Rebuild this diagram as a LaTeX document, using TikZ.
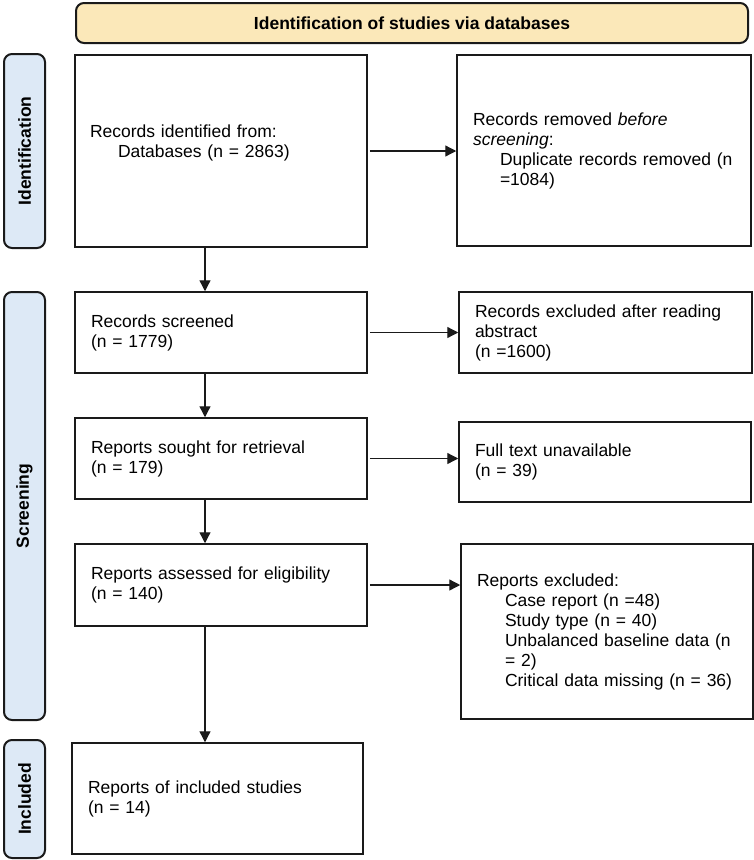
\documentclass[tikz,border=0pt]{standalone}
\usepackage{fontspec}
\setmainfont{Liberation Sans}
\usetikzlibrary{arrows.meta}
\definecolor{hdrfill}{HTML}{FBE8B9}
\definecolor{barfill}{HTML}{DDE9F6}
\definecolor{edgecol}{HTML}{1A1A1A}
\begin{document}
\begin{tikzpicture}[x=1pt,y=-1pt,
  every node/.style={font=\fontsize{17.5}{20}\selectfont, text=black},
  flowbox/.style={draw=edgecol, line width=1.5pt, rectangle, inner xsep=16pt, inner ysep=0pt, align=left, fill=white},
  sidebar/.style={draw=edgecol, line width=2pt, rounded corners=8pt, fill=barfill, inner sep=0pt, rotate=90, font=\fontsize{17.5}{20}\selectfont\bfseries},
  hdrbox/.style={draw=edgecol, line width=2pt, rounded corners=8pt, fill=hdrfill, inner sep=0pt, font=\fontsize{17.5}{20}\selectfont\bfseries},
  arr/.style={line width=1.3pt, draw=edgecol, -{Triangle[length=11pt,width=11pt]}}
]
\useasboundingbox (0,0) rectangle (754,860);

% header
\node[hdrbox, minimum width=672pt, minimum height=40pt] (hdr) at (412,23) {Identification of studies via databases};

% side bars
\node[sidebar, minimum width=194pt, minimum height=41pt] (idbar) at (24.5,151) {Identification};
\node[sidebar, minimum width=428pt, minimum height=41pt] (scrbar) at (24.5,506) {Screening};
\node[sidebar, minimum width=118pt, minimum height=41pt] (incbar) at (24.5,799) {Included};

% boxes
\node[flowbox, inner xsep=15pt, minimum width=292pt, minimum height=192pt, text width=262pt] (box1) at (221,151)
  {Records identified from:\\ \mbox{\hspace{28pt}Databases (n = 2863)}\\ \mbox{}};
\node[flowbox, minimum width=294pt, minimum height=191pt, text width=262pt] (box2) at (604,150.5)
  {Records removed \textit{before}\\ \textit{screening}:\\ \mbox{\hspace{27pt}Duplicate records removed (n}\\ \mbox{\hspace{27pt}=1084)}};
\node[flowbox, minimum width=292pt, minimum height=81pt, text width=260pt] (box3) at (221,332.5)
  {Records screened\\ (n = 1779)};
\node[flowbox, minimum width=293pt, minimum height=81pt, text width=261pt] (box4) at (605.5,332.5)
  {Records excluded after reading\\ abstract\\ (n =1600)};
\node[flowbox, minimum width=292pt, minimum height=81pt, text width=260pt] (box5) at (221,458.5)
  {Reports sought for retrieval\\ (n = 179)};
\node[flowbox, minimum width=292pt, minimum height=80pt, text width=260pt] (box6) at (605,462)
  {Full text unavailable\\ (n = 39)};
\node[flowbox, minimum width=292pt, minimum height=82pt, text width=260pt] (box7) at (221,585)
  {Reports assessed for eligibility\\ (n = 140)};
\node[flowbox, minimum width=292pt, minimum height=175pt, text width=260pt] (box8) at (607,631.5)
  {Reports excluded:\\ \mbox{\hspace{28pt}Case report (n =48)}\\ \mbox{\hspace{28pt}Study type (n = 40)}\\ \mbox{\hspace{28pt}Unbalanced baseline data (n}\\ \mbox{\hspace{28pt}= 2)}\\ \mbox{\hspace{28pt}Critical data missing (n = 36)}};
\node[flowbox, minimum width=291pt, minimum height=111pt, text width=259pt] (box9) at (217.5,798.5)
  {Reports of included studies\\ (n = 14)};

% connectors
\coordinate (colx) at (205,0);
\draw[arr] (box1.south -| colx) -- (box3.north -| colx);
\draw[arr] (box3.south -| colx) -- (box5.north -| colx);
\draw[arr] (box5.south -| colx) -- (box7.north -| colx);
\draw[arr] (box7.south -| colx) -- (box9.north -| colx);

\draw[arr, shorten <=2pt] (box1.east) -- (box1.east -| box2.west);
\draw[arr, shorten <=2pt] (box3.east) -- (box3.east -| box4.west);
\draw[arr, shorten <=2pt] (box5.east) -- (box5.east -| box6.west);
\draw[arr, shorten <=2pt] (box7.east) -- (box7.east -| box8.west);
\end{tikzpicture}
\end{document}
